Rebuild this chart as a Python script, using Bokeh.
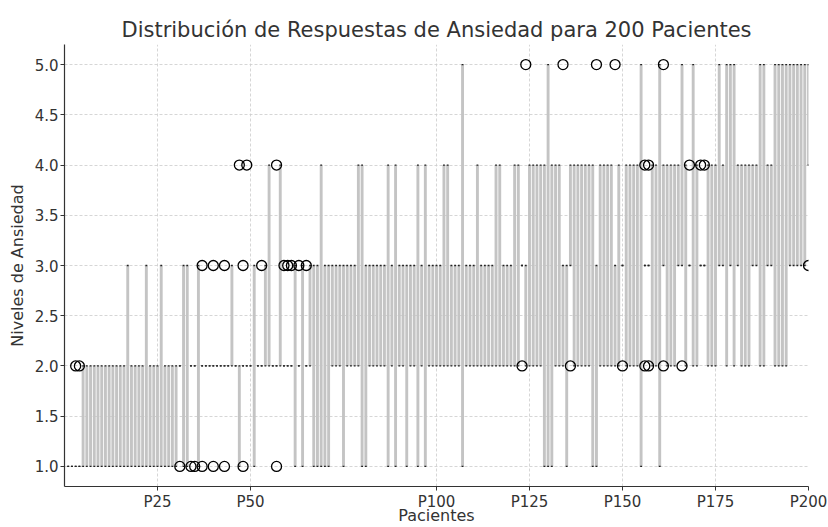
from bokeh.plotting import figure
from bokeh.models import Range1d, FixedTicker, ColumnDataSource, CustomJSTickFormatter
from bokeh.embed import file_html
from bokeh.resources import INLINE

# ---- data: per-patient box extent (lowest / highest drawn value), patients 1..200 ----
patients = list(range(1, 201))
low = [1, 1, 1, 1, 1, 1, 1, 1, 1, 1,
       1, 1, 1, 1, 1, 1, 1, 1, 1, 1,
       1, 1, 1, 1, 1, 1, 1, 1, 1, 1,
       2, 1, 1, 2, 2, 1, 2, 2, 2, 2,
       2, 2, 2, 2, 2, 2, 1, 2, 2, 2,
       1, 2, 2, 2, 2, 2, 2, 2, 2, 2,
       2, 1, 2, 1, 2, 2, 1, 1, 1, 1,
       1, 2, 2, 2, 1, 2, 2, 2, 2, 1,
       1, 2, 2, 2, 2, 2, 1, 2, 1, 2,
       2, 1, 2, 2, 1, 2, 1, 2, 2, 2,
       2, 2, 2, 2, 2, 2, 1, 2, 2, 2,
       2, 2, 2, 2, 2, 2, 2, 2, 2, 2,
       2, 2, 3, 2, 2, 2, 2, 2, 1, 1,
       1, 2, 2, 2, 1, 3, 2, 2, 2, 2,
       2, 1, 1, 2, 2, 2, 2, 2, 2, 3,
       2, 2, 2, 2, 1, 3, 3, 2, 2, 1,
       3, 2, 2, 2, 3, 3, 2, 3, 2, 2,
       3, 3, 2, 2, 2, 3, 3, 2, 3, 2,
       3, 2, 2, 2, 3, 3, 2, 2, 3, 3,
       2, 2, 2, 2, 3, 3, 3, 3, 3, 4]
high = [1, 1, 1, 1, 2, 2, 2, 2, 2, 2,
        2, 2, 2, 2, 2, 2, 3, 2, 2, 2,
        2, 3, 2, 2, 2, 3, 2, 2, 2, 2,
        2, 3, 3, 2, 2, 3, 2, 2, 2, 2,
        2, 2, 2, 2, 3, 2, 2, 2, 2, 2,
        3, 2, 2, 3, 4, 2, 2, 4, 2, 2,
        2, 3, 2, 3, 2, 3, 3, 3, 4, 3,
        3, 3, 3, 3, 3, 3, 3, 3, 4, 4,
        3, 3, 3, 3, 3, 3, 4, 3, 4, 3,
        3, 3, 3, 3, 4, 3, 4, 3, 3, 3,
        3, 4, 4, 3, 3, 3, 5, 3, 3, 3,
        4, 3, 3, 3, 3, 4, 4, 3, 3, 3,
        4, 4, 3, 3, 4, 4, 4, 4, 4, 5,
        4, 4, 4, 3, 3, 4, 4, 4, 4, 4,
        4, 4, 3, 4, 4, 4, 4, 3, 4, 3,
        4, 4, 4, 4, 5, 3, 3, 4, 4, 5,
        4, 4, 4, 4, 4, 5, 4, 3, 5, 4,
        3, 3, 4, 4, 4, 5, 4, 5, 5, 5,
        4, 4, 4, 4, 4, 4, 5, 5, 4, 4,
        5, 5, 5, 5, 5, 5, 5, 5, 5, 5]

flier_patient = [3, 4, 31, 34, 35, 37, 37, 40, 40, 43, 43, 47, 48, 48, 49,
                 53, 57, 57, 59, 60, 61, 63, 65,
                 123, 124, 134, 136, 143, 148, 150, 156, 156, 157, 157,
                 161, 161, 166, 168, 171, 172, 200]
flier_value = [2, 2, 1, 1, 1, 1, 3, 1, 3, 1, 3, 4, 1, 3, 4,
               3, 1, 4, 3, 3, 3, 3, 3,
               2, 5, 5, 2, 5, 5, 2, 2, 4, 2, 4,
               2, 5, 2, 4, 4, 4, 3]

tick_positions = [25, 50, 100, 125, 150, 175, 200]
tick_labels = ["P25", "P50", "P100", "P125", "P150", "P175", "P200"]
y_ticks = [1.0, 1.5, 2.0, 2.5, 3.0, 3.5, 4.0, 4.5, 5.0]

FONT = "DejaVu Sans"
TXT = "#333333"

p = figure(width=828, height=527, output_backend="svg", toolbar_location=None,
           x_range=Range1d(0, 200), y_range=Range1d(0.8, 5.2),
           min_border_left=64, min_border_right=20, min_border_top=44,
           min_border_bottom=39,
           title="Distribución de Respuestas de Ansiedad para 200 Pacientes")
p.outline_line_color = None
p.background_fill_color = "white"
p.border_fill_color = "white"

p.title.text_font = FONT
p.title.text_font_size = "21px"
p.title.text_font_style = "normal"
p.title.text_color = TXT
p.title.align = "center"
p.title.standoff = 6

src = ColumnDataSource(dict(x=patients, lo=low, hi=high,
                            xl=[v - 0.25 for v in patients],
                            xr=[v + 0.25 for v in patients]))
p.segment(x0="x", y0="lo", x1="x", y1="hi", source=src,
          line_color="#c4c4c4", line_width=2.9)
p.segment(x0="xl", y0="lo", x1="xr", y1="lo", source=src,
          line_color="#222222", line_width=1.3)
p.segment(x0="xl", y0="hi", x1="xr", y1="hi", source=src,
          line_color="#222222", line_width=1.3)
p.scatter(flier_patient, flier_value, size=10, marker="circle",
          fill_color=None, line_color="black", line_width=1.3)

p.xaxis.ticker = FixedTicker(ticks=tick_positions)
p.xaxis.major_label_overrides = {t: l for t, l in zip(tick_positions, tick_labels)}
p.yaxis.ticker = FixedTicker(ticks=y_ticks)
p.yaxis.formatter = CustomJSTickFormatter(code="return tick.toFixed(1);")

for ax in (p.xaxis, p.yaxis):
    ax.axis_line_color = "#333333"
    ax.axis_line_width = 1.2
    ax.major_tick_line_color = "#333333"
    ax.major_tick_out = 4
    ax.major_tick_in = 0
    ax.minor_tick_out = 0
    ax.minor_tick_in = 0
    ax.major_label_text_font = FONT
    ax.major_label_text_font_size = "15px"
    ax.major_label_text_color = TXT
    ax.axis_label_text_font = FONT
    ax.axis_label_text_font_size = "16px"
    ax.axis_label_text_font_style = "normal"
    ax.axis_label_text_color = TXT
    ax.major_label_standoff = 2

p.xaxis.axis_label = "Pacientes"
p.xaxis.axis_label_standoff = -8
p.yaxis.axis_label = "Niveles de Ansiedad"
p.yaxis.axis_label_standoff = 5

for g in (p.xgrid, p.ygrid):
    g.grid_line_color = "#cccccc"
    g.grid_line_dash = "3 2"
    g.grid_line_width = 0.8
p.xgrid.ticker = FixedTicker(ticks=tick_positions)

open("out.html", "w").write(file_html(p, INLINE))
